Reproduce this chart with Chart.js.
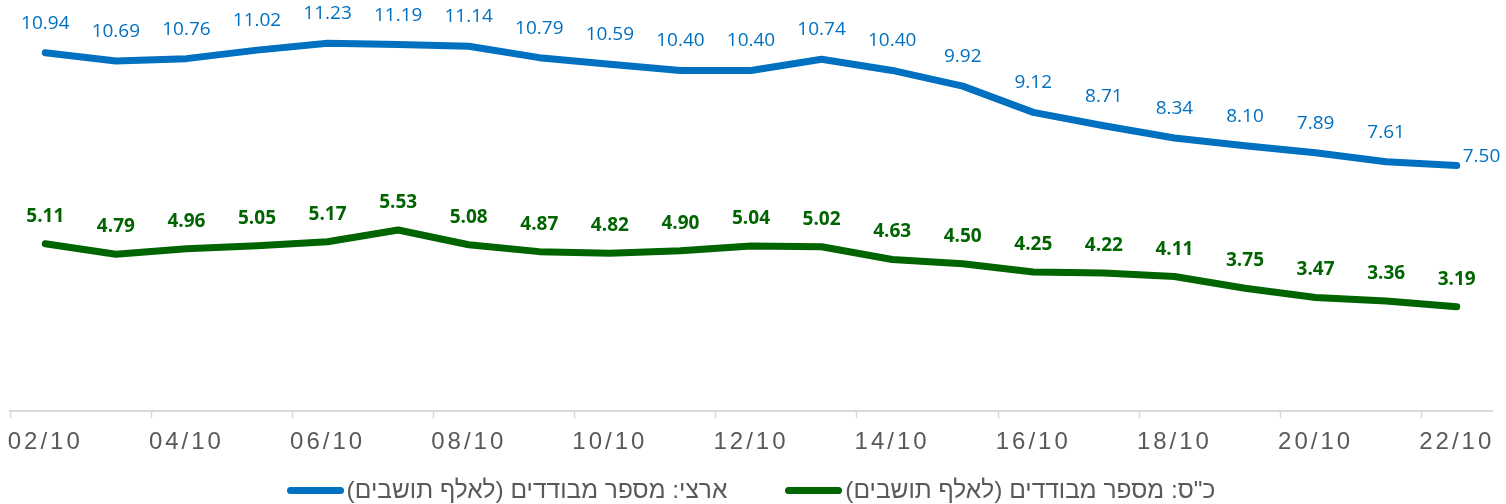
<!DOCTYPE html>
<html>
<head>
<meta charset="utf-8">
<script src="https://cdn.jsdelivr.net/npm/chart.js@4.4.0/dist/chart.umd.min.js"></script>
<style>
  body { margin: 0; background: #fff; }
  #wrap { position: relative; width: 1506px; height: 504px; }
  #legend {
    position: absolute; left: 0; top: 476px; width: 1506px;
    display: flex; justify-content: center; gap: 58px;
    padding-right: 4px; box-sizing: border-box;
    font: 24.5px "Liberation Sans", Arial, sans-serif; color: #595959;
  }
  .item { display: flex; align-items: center; gap: 3px; }
  .swatch { width: 57px; height: 7px; border-radius: 4px; }
</style>
</head>
<body>
<div id="wrap">
  <canvas id="chart" width="1506" height="504"></canvas>
  <div id="legend"></div>
</div>
<script>
const days = ['02/10', '03/10', '04/10', '05/10', '06/10', '07/10', '08/10', '09/10', '10/10', '11/10',
  '12/10', '13/10', '14/10', '15/10', '16/10', '17/10', '18/10', '19/10', '20/10', '21/10', '22/10'];

const nationalValues = [10.94, 10.69, 10.76, 11.02, 11.23, 11.19, 11.14, 10.79, 10.59, 10.40,
  10.40, 10.74, 10.40, 9.92, 9.12, 8.71, 8.34, 8.10, 7.89, 7.61, 7.50];

const kfarSabaValues = [5.11, 4.79, 4.96, 5.05, 5.17, 5.53, 5.08, 4.87, 4.82, 4.90,
  5.04, 5.02, 4.63, 4.50, 4.25, 4.22, 4.11, 3.75, 3.47, 3.36, 3.19];

const seriesNames = ['ארצי: מספר מבודדים (לאלף תושבים)', 'כ"ס: מספר מבודדים (לאלף תושבים)'];
const seriesColors = ['#0070C0', '#006400'];

// value labels above points, tick label spacing for the x axis
const valueLabels = {
    id: 'valueLabels',
    afterDatasetsDraw(chart) {
        const ctx = chart.ctx;
        ctx.save();
        chart.data.datasets.forEach((ds, di) => {
            const meta = chart.getDatasetMeta(di);
            ctx.fillStyle = ds.borderColor;
            ctx.font = (di === 1 ? 'bold ' : '') + '19px "Open Sans"';
            ctx.textBaseline = 'alphabetic';
            meta.data.forEach((pt, i) => {
                const text = ds.data[i].toFixed(2);
                if (di === 0 && i === meta.data.length - 1) {
                    ctx.textAlign = 'left';
                    ctx.fillText(text, pt.x + 6, pt.y - 3);
                } else {
                    ctx.textAlign = 'center';
                    ctx.fillText(text, pt.x, pt.y - (di === 0 ? 24 : 22));
                }
            });
        });
        ctx.restore();
        ctx.letterSpacing = '3px';
    },
    afterDraw(chart) {
        chart.ctx.letterSpacing = '0px';
    }
};

const chart = new Chart(document.getElementById('chart'), {
    type: 'line',
    data: {
        labels: days,
        datasets: [
            {
                label: seriesNames[0],
                data: nationalValues,
                borderColor: seriesColors[0],
                backgroundColor: seriesColors[0],
                borderWidth: 7,
                borderCapStyle: 'round',
                borderJoinStyle: 'round',
                pointRadius: 0,
                tension: 0
            },
            {
                label: seriesNames[1],
                data: kfarSabaValues,
                borderColor: seriesColors[1],
                backgroundColor: seriesColors[1],
                borderWidth: 7,
                borderCapStyle: 'round',
                borderJoinStyle: 'round',
                pointRadius: 0,
                tension: 0
            }
        ]
    },
    options: {
        responsive: false,
        animation: false,
        layout: { padding: { left: 10, right: 14, top: 18, bottom: 37 } },
        plugins: {
            legend: { display: false },
            tooltip: { enabled: false }
        },
        scales: {
            x: {
                offset: true,
                border: { color: '#d9d9d9', width: 2 },
                grid: {
                    offset: true,
                    drawOnChartArea: false,
                    tickLength: 7,
                    tickWidth: 1.5,
                    tickColor: ctx => ctx.index % 2 === 0 ? '#d9d9d9' : 'rgba(0,0,0,0)'
                },
                ticks: {
                    autoSkip: false,
                    maxRotation: 0,
                    padding: 10,
                    z: 1,
                    color: '#595959',
                    font: { family: '"Liberation Sans", Arial', size: 24 },
                    callback: (value, index) => index % 2 === 0 ? days[index] : ''
                }
            },
            y: {
                display: false,
                min: 0,
                max: 12
            }
        }
    },
    plugins: [valueLabels]
});

const legendEl = document.getElementById('legend');
chart.data.datasets.forEach(ds => {
    const item = document.createElement('div');
    item.className = 'item';
    item.innerHTML = `<span class="swatch" style="background:${ds.borderColor}"></span><span dir="rtl">${ds.label}</span>`;
    legendEl.appendChild(item);
});
</script>
</body>
</html>
